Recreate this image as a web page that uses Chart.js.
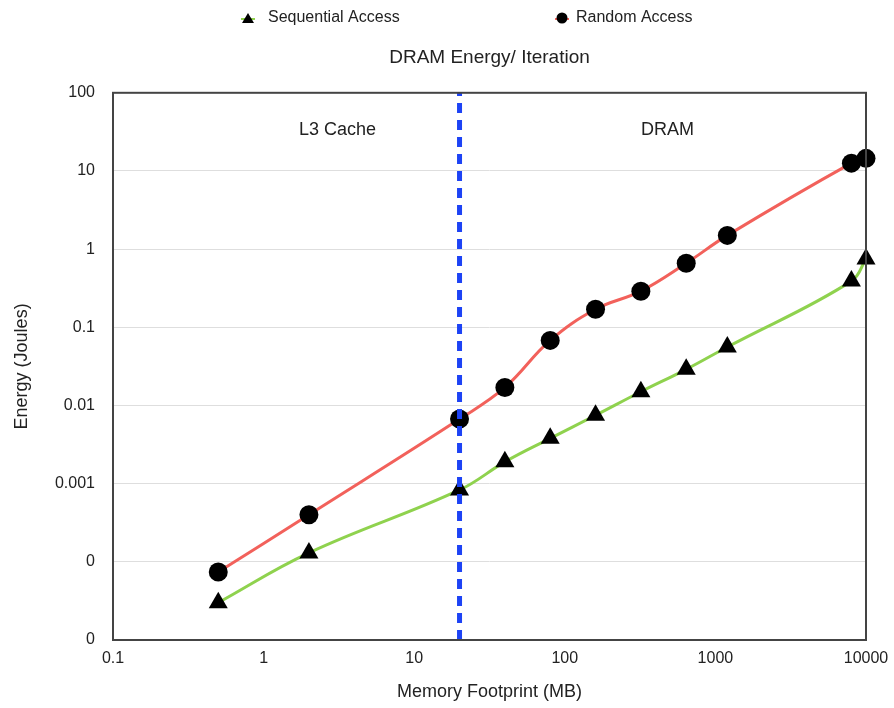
<!DOCTYPE html>
<html>
<head>
<meta charset="utf-8">
<title>DRAM Energy/ Iteration</title>
<script src="https://cdn.jsdelivr.net/npm/chart.js@4.4.1/dist/chart.umd.min.js"></script>
<style>
  html, body { margin: 0; padding: 0; background: #fff; }
</style>
</head>
<body>
<canvas id="energyChart" width="894" height="708"></canvas>
<script>
// Datos (MB -> Joules)
var footprintMB = [0.5, 2, 20, 40, 80, 160, 320, 640, 1200, 8000, 10000];
var sequentialJ = [3.0e-5, 1.3e-4, 8.3e-4, 1.9e-3, 3.8e-3, 7.5e-3, 0.015, 0.029, 0.056, 0.39, 0.75];
var randomJ = [7.4e-5, 4.0e-4, 6.7e-3, 0.017, 0.068, 0.17, 0.29, 0.66, 1.5, 12.6, 14.5];

var boundaryMB = 20; // limite L3 / DRAM
var regionNames = ['L3 Cache', 'DRAM'];

var xTicks = [0.1, 1, 10, 100, 1000, 10000];
var xTickLabels = ['0.1', '1', '10', '100', '1000', '10000'];
var yTicks = [1e-5, 1e-4, 1e-3, 0.01, 0.1, 1, 10, 100];
var yTickLabels = ['0', '0', '0.001', '0.01', '0.1', '1', '10', '100'];

var FONT = 'Liberation Sans, Arial, Helvetica, sans-serif';
var TEXT = '#222';

function toPoints(xs, ys) {
  return xs.map(function(x, i) { return { x: x, y: ys[i] }; });
}

// Marco del area del grafico (encima de los marcadores)
var framePlugin = {
  id: 'frame',
  afterDatasetsDraw: function(chart) {
    var a = chart.chartArea, ctx = chart.ctx;
    ctx.save();
    ctx.strokeStyle = '#444';
    ctx.lineWidth = 2;
    ctx.strokeRect(a.left, a.top, a.right - a.left, a.bottom - a.top);
    ctx.restore();
  }
};

// Etiquetas de las regiones
var regionPlugin = {
  id: 'regions',
  afterDraw: function(chart) {
    var xs = chart.scales.x, ys = chart.scales.y, ctx = chart.ctx;
    var spots = [3.1, 480];
    ctx.save();
    ctx.font = '18px ' + FONT;
    ctx.fillStyle = TEXT;
    ctx.textAlign = 'center';
    ctx.textBaseline = 'middle';
    regionNames.forEach(function(name, i) {
      ctx.fillText(name, xs.getPixelForValue(spots[i]), ys.getPixelForValue(33));
    });
    ctx.restore();
  }
};

// Leyenda propia (separacion amplia como en el original)
var legendPlugin = {
  id: 'wideLegend',
  afterDraw: function(chart) {
    var ctx = chart.ctx, a = chart.chartArea;
    var offsets = [135, 449];
    var y = 18;
    ctx.save();
    ctx.font = '16px ' + FONT;
    ctx.textBaseline = 'middle';
    ctx.textAlign = 'left';
    [1, 2].forEach(function(di, k) {
      var ds = chart.data.datasets[di];
      var cx = a.left + offsets[k];
      ctx.strokeStyle = ds.borderColor;
      ctx.lineWidth = 2;
      ctx.beginPath();
      ctx.moveTo(cx - 7, y + 1);
      ctx.lineTo(cx + 7, y + 1);
      ctx.stroke();
      ctx.fillStyle = '#000';
      ctx.beginPath();
      if (ds.pointStyle === 'triangle') {
        ctx.moveTo(cx, y - 5);
        ctx.lineTo(cx + 6, y + 5);
        ctx.lineTo(cx - 6, y + 5);
        ctx.closePath();
      } else {
        ctx.arc(cx, y, 5.5, 0, Math.PI * 2);
      }
      ctx.fill();
      ctx.fillStyle = TEXT;
      ctx.fillText(ds.label, cx + (k === 0 ? 20 : 14), y);
    });
    ctx.restore();
  }
};

var ctx = document.getElementById('energyChart').getContext('2d');
var energyChart = new Chart(ctx, {
  type: 'scatter',
  data: {
    datasets: [
      {
        label: 'boundary',
        data: [{ x: boundaryMB, y: 1e-5 }, { x: boundaryMB, y: 100 }],
        showLine: true,
        borderColor: '#1d43f5',
        borderWidth: 5,
        borderDash: [10, 7],
        pointRadius: 0,
        clip: false
      },
      {
        label: 'Sequential Access',
        data: toPoints(footprintMB, sequentialJ),
        showLine: true,
        borderColor: '#8fd24e',
        borderWidth: 3,
        tension: 0.4,
        pointStyle: 'triangle',
        pointRadius: 11,
        pointBackgroundColor: '#000',
        pointBorderColor: '#000',
        pointBorderWidth: 0,
        clip: false
      },
      {
        label: 'Random Access',
        data: toPoints(footprintMB, randomJ),
        showLine: true,
        borderColor: '#f2615b',
        borderWidth: 3,
        tension: 0.4,
        pointStyle: 'circle',
        pointRadius: 9.5,
        pointBackgroundColor: '#000',
        pointBorderColor: '#000',
        pointBorderWidth: 0,
        clip: false
      }
    ]
  },
  options: {
    responsive: false,
    animation: false,
    layout: { padding: { top: 36, right: 28, left: 0, bottom: 0 } },
    plugins: {
      legend: { display: false },
      tooltip: { enabled: false },
      title: {
        display: true,
        text: 'DRAM Energy/ Iteration',
        fullSize: false,
        color: TEXT,
        font: { family: FONT, size: 19, weight: 'normal' },
        padding: { top: 10, bottom: 24 }
      }
    },
    scales: {
      x: {
        type: 'logarithmic',
        min: 0.1,
        max: 10000,
        afterBuildTicks: function(scale) {
          scale.ticks = xTicks.map(function(v) { return { value: v }; });
        },
        afterFit: function(scale) {
          scale.height = 68;
          scale.paddingLeft = 0;
          scale.paddingRight = 0;
        },
        ticks: {
          callback: function(v, i) { return xTickLabels[i]; },
          color: TEXT,
          font: { family: FONT, size: 16 },
          padding: 9,
          maxRotation: 0,
          autoSkip: false
        },
        grid: { display: false, drawTicks: false },
        border: { display: false },
        title: {
          display: true,
          text: 'Memory Footprint (MB)',
          color: TEXT,
          font: { family: FONT, size: 18 },
          padding: { top: 0, bottom: 5 }
        }
      },
      y: {
        type: 'logarithmic',
        min: 1e-5,
        max: 100,
        afterBuildTicks: function(scale) {
          scale.ticks = yTicks.map(function(v) { return { value: v }; });
        },
        afterFit: function(scale) { scale.width = 113; },
        ticks: {
          callback: function(v, i) { return yTickLabels[i]; },
          color: TEXT,
          font: { family: FONT, size: 16 },
          padding: 18,
          autoSkip: false
        },
        grid: { color: '#dedede', lineWidth: 1, drawTicks: false },
        border: { display: false },
        title: {
          display: true,
          text: 'Energy (Joules)',
          color: TEXT,
          font: { family: FONT, size: 18 },
          padding: { top: 11, bottom: 0 }
        }
      }
    }
  },
  plugins: [framePlugin, regionPlugin, legendPlugin]
});
</script>
</body>
</html>
